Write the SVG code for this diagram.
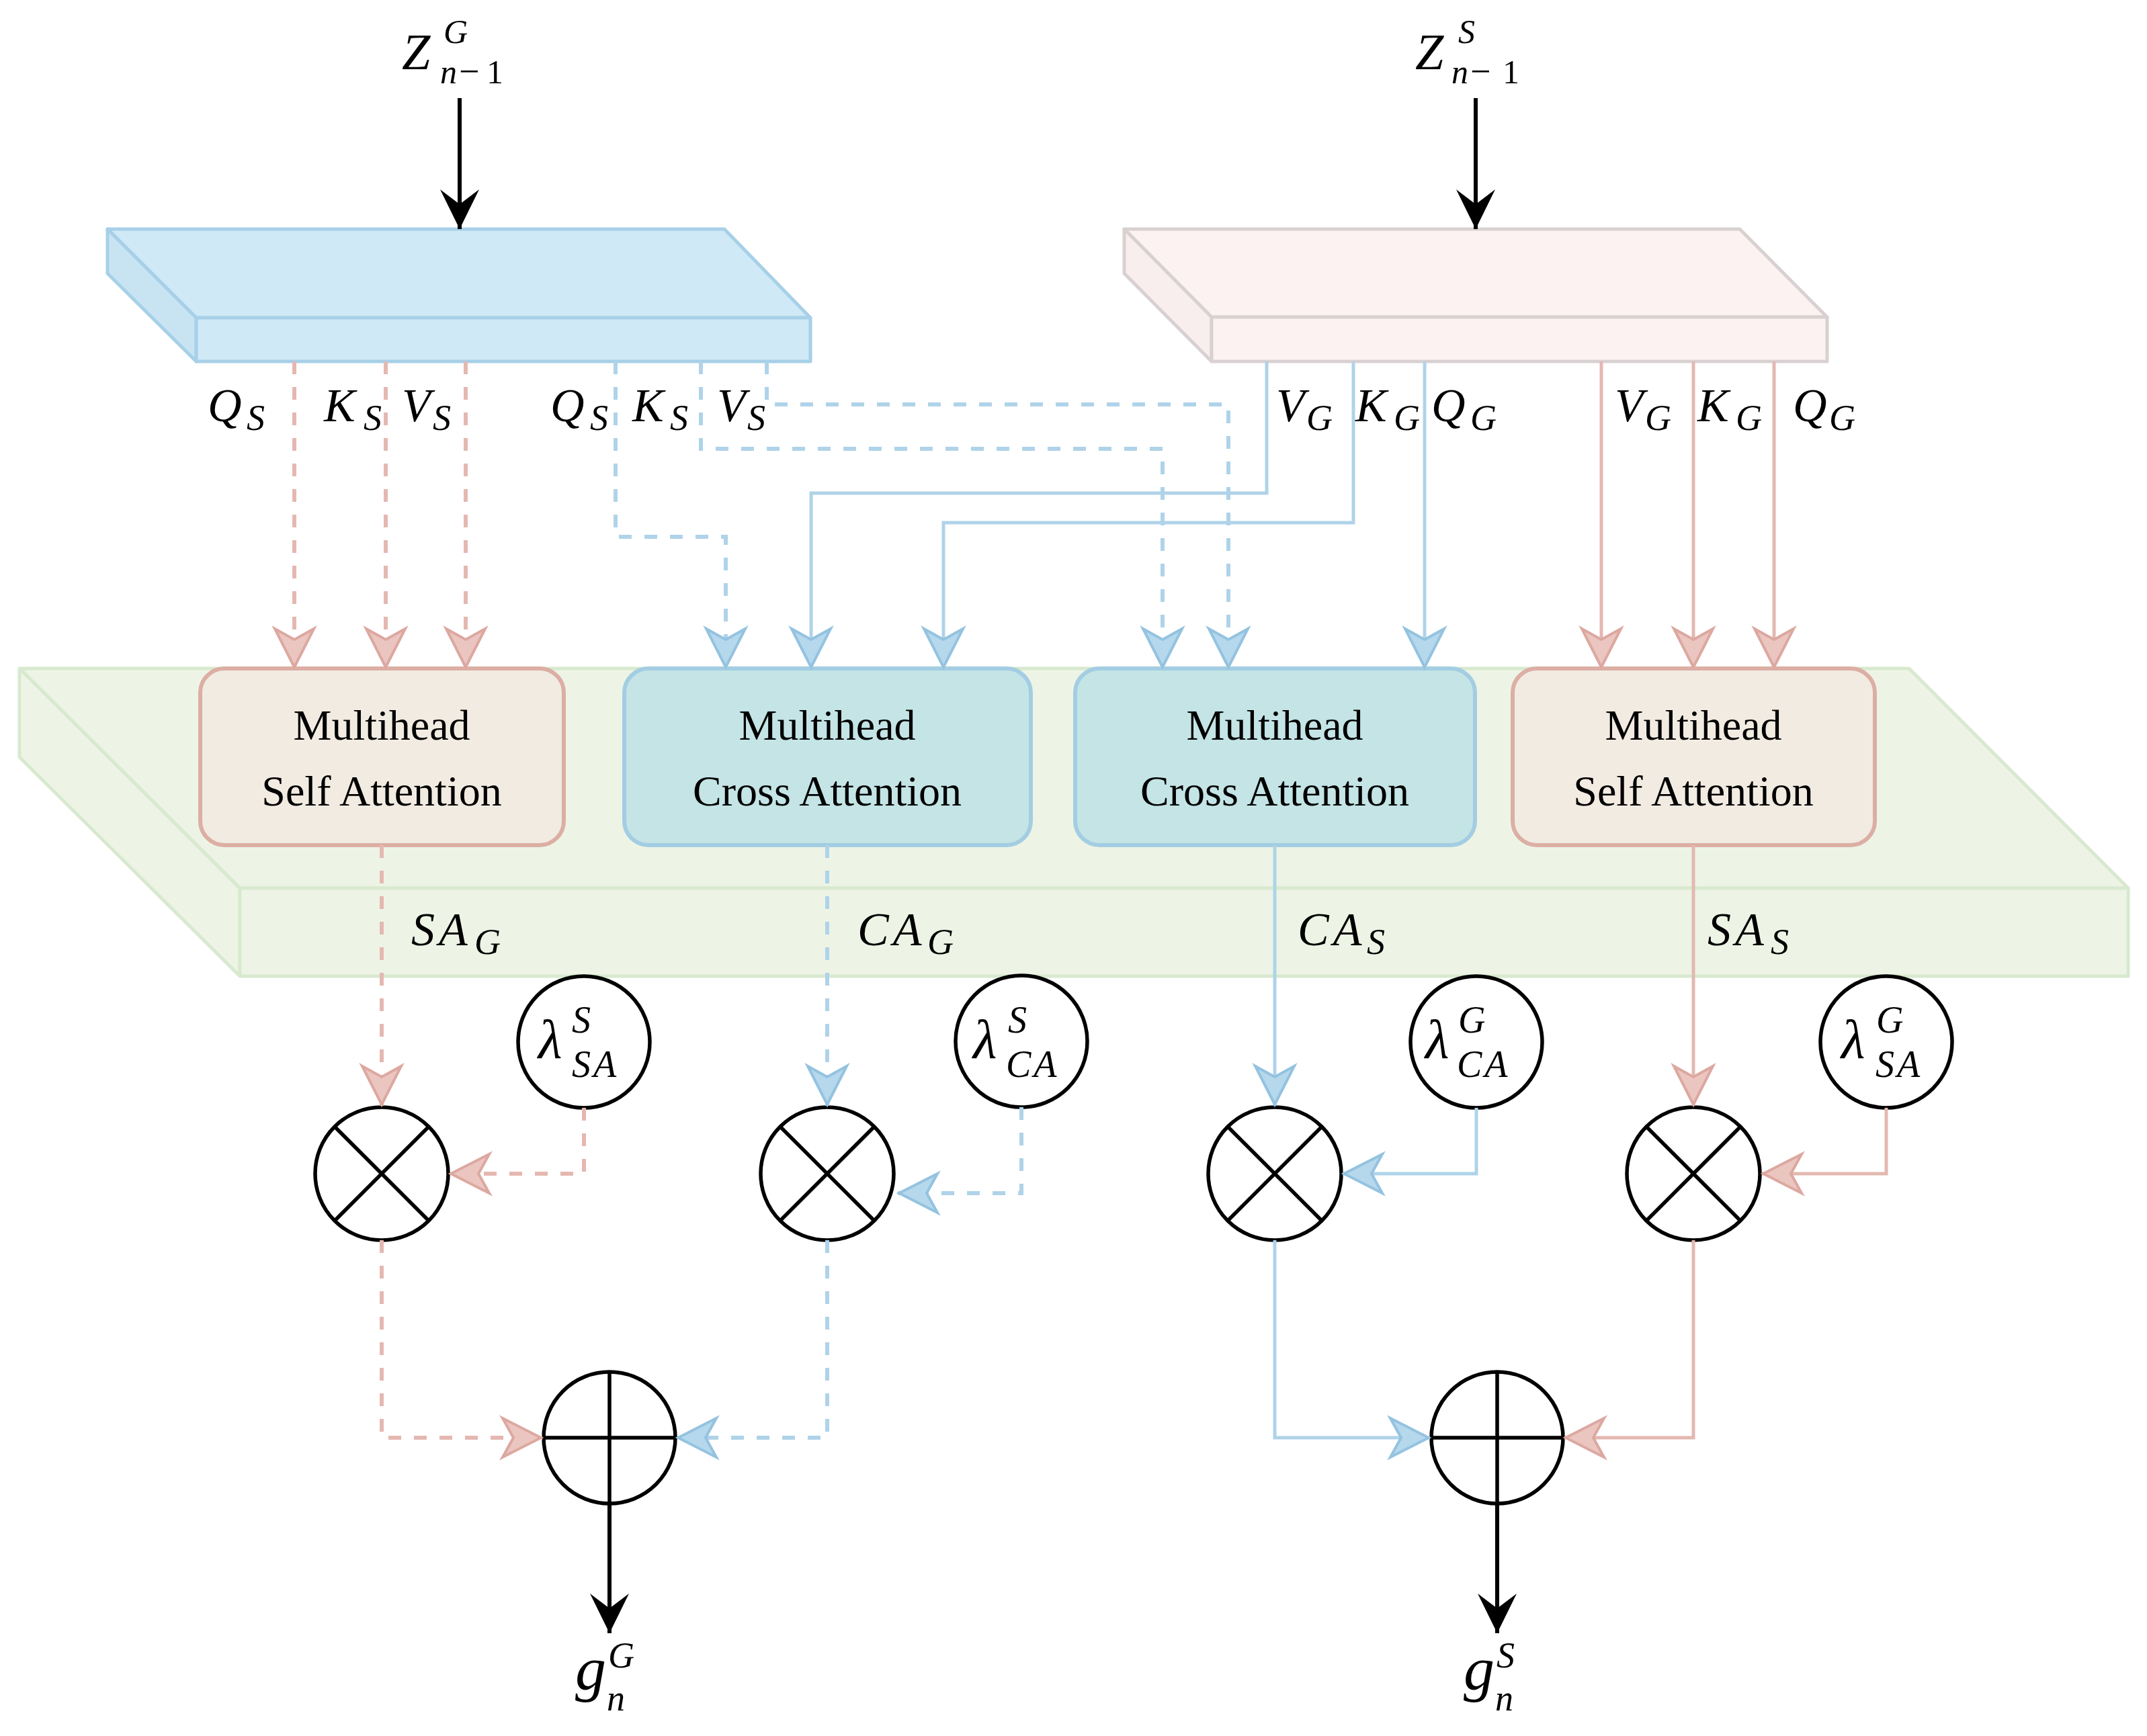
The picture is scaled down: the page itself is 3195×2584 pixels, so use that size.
<svg xmlns="http://www.w3.org/2000/svg" width="3195" height="2584" viewBox="0 0 3195 2584">
<style>
.bg{fill:#ffffff}
.txt{font-family:"Liberation Serif","Times New Roman",serif;font-size:64px;fill:#000;text-anchor:middle}
.m{font-family:"Liberation Serif","Times New Roman",serif;font-style:italic;fill:#000}
.big{font-size:70px}
.sub{font-size:54px}
.slabB{fill:#cfe9f6;stroke:#a7d0e8;stroke-width:5;stroke-linejoin:round}
.slabBs{fill:#c8e4f3;stroke:#a7d0e8;stroke-width:5;stroke-linejoin:round}
.slabP{fill:#fcf2f1;stroke:#d9d1d1;stroke-width:5;stroke-linejoin:round}
.slabPs{fill:#f8eeed;stroke:#d9d1d1;stroke-width:5;stroke-linejoin:round}
.slabG{fill:#edf4e5;stroke:#d8e9cf;stroke-width:5;stroke-linejoin:round}
.boxSA{fill:#f1ebe2;stroke:#dcaea4;stroke-width:6}
.boxCA{fill:#c4e4e6;stroke:#a3cde2;stroke-width:6}
.op{fill:#ffffff;stroke:#000;stroke-width:5.5}
.opl{stroke:#000;stroke-width:5.5;fill:none}
.pd{fill:none;stroke:#e4b8b1;stroke-width:6;stroke-dasharray:19 19;marker-end:url(#ap)}
.bd{fill:none;stroke:#afd3e9;stroke-width:6;stroke-dasharray:19 19;marker-end:url(#ab)}
.ps{fill:none;stroke:#e4b8b1;stroke-width:5;marker-end:url(#ap)}
.bs{fill:none;stroke:#afd3e9;stroke-width:5;marker-end:url(#ab)}
.k{fill:none;stroke:#000;stroke-width:6;marker-end:url(#ak)}
</style>
<defs>
<marker id="ap" viewBox="-66 -34 70 68" refX="0" refY="0" markerWidth="70" markerHeight="68" markerUnits="userSpaceOnUse" orient="auto">
<path d="M-2,0 L-59,-29 L-43,0 L-59,29 Z" fill="#ebc6c1" stroke="#dca8a0" stroke-width="4"/>
</marker>
<marker id="ab" viewBox="-66 -34 70 68" refX="0" refY="0" markerWidth="70" markerHeight="68" markerUnits="userSpaceOnUse" orient="auto">
<path d="M-2,0 L-59,-29 L-43,0 L-59,29 Z" fill="#b6d8ec" stroke="#94c3e0" stroke-width="4"/>
</marker>
<marker id="ak" viewBox="-66 -34 70 68" refX="0" refY="0" markerWidth="70" markerHeight="68" markerUnits="userSpaceOnUse" orient="auto">
<path d="M0,0 L-59,-29 L-37,0 L-59,29 Z" fill="#000"/>
</marker>
</defs>
<rect class="bg" x="0" y="0" width="3195" height="2584"/>

<g id="slab-G">
<polygon class="slabB" points="160,341 1078,341 1206,473 292,473"/>
<polygon class="slabBs" points="160,341 292,473 292,538 160,407"/>
<rect class="slabB" x="292" y="473" width="914" height="65"/>
</g>
<g id="slab-S">
<polygon class="slabP" points="1673,341 2589,341 2719,472 1803,472"/>
<polygon class="slabPs" points="1673,341 1803,472 1803,538 1673,407"/>
<rect class="slabP" x="1803" y="472" width="916" height="66"/>
</g>
<g id="slab-attn">
<polygon class="slabG" points="29,995 2841,995 3167,1322 357,1322"/>
<polygon class="slabG" points="29,995 357,1322 357,1453 29,1127"/>
<rect class="slabG" x="357" y="1322" width="2810" height="131"/>
</g>

<g id="sa-g">
<rect class="boxSA" x="298" y="995" width="541" height="263" rx="36"/>
<text class="txt" x="568" y="1101">Multihead</text>
<text class="txt" x="568" y="1199">Self Attention</text>
</g>
<g id="ca-g">
<rect class="boxCA" x="929" y="995" width="605" height="263" rx="36"/>
<text class="txt" x="1231" y="1101">Multihead</text>
<text class="txt" x="1231" y="1199">Cross Attention</text>
</g>
<g id="ca-s">
<rect class="boxCA" x="1600" y="995" width="595" height="263" rx="36"/>
<text class="txt" x="1897" y="1101">Multihead</text>
<text class="txt" x="1897" y="1199">Cross Attention</text>
</g>
<g id="sa-s">
<rect class="boxSA" x="2251" y="995" width="539" height="263" rx="36"/>
<text class="txt" x="2520" y="1101">Multihead</text>
<text class="txt" x="2520" y="1199">Self Attention</text>
</g>

<g id="lambda-sa-s">
<circle class="op" cx="869" cy="1551" r="98"/>
<text class="m" font-size="82"><tspan x="801" y="1575">λ</tspan><tspan x="851" y="1537" font-size="56">S</tspan><tspan x="851" y="1603" font-size="56" letter-spacing="4">SA</tspan></text>
</g>
<g id="lambda-ca-s">
<circle class="op" cx="1520" cy="1550" r="98"/>
<text class="m" font-size="82"><tspan x="1448" y="1575">λ</tspan><tspan x="1500" y="1537" font-size="56">S</tspan><tspan x="1497" y="1603" font-size="56" letter-spacing="4">CA</tspan></text>
</g>
<g id="lambda-ca-g">
<circle class="op" cx="2197" cy="1551" r="98"/>
<text class="m" font-size="82"><tspan x="2121" y="1575">λ</tspan><tspan x="2170" y="1537" font-size="56">G</tspan><tspan x="2168" y="1603" font-size="56" letter-spacing="4">CA</tspan></text>
</g>
<g id="lambda-sa-g">
<circle class="op" cx="2807" cy="1551" r="98"/>
<text class="m" font-size="82"><tspan x="2740" y="1575">λ</tspan><tspan x="2792" y="1537" font-size="56">G</tspan><tspan x="2791" y="1603" font-size="56" letter-spacing="4">SA</tspan></text>
</g>

<g id="mul-1">
<circle class="op" cx="568" cy="1747" r="99"/>
<path class="opl" d="M498,1677 L638,1817 M638,1677 L498,1817"/>
</g>
<g id="mul-2">
<circle class="op" cx="1231" cy="1747" r="99"/>
<path class="opl" d="M1161,1677 L1301,1817 M1301,1677 L1161,1817"/>
</g>
<g id="mul-3">
<circle class="op" cx="1897" cy="1747" r="99"/>
<path class="opl" d="M1827,1677 L1967,1817 M1967,1677 L1827,1817"/>
</g>
<g id="mul-4">
<circle class="op" cx="2520" cy="1747" r="99"/>
<path class="opl" d="M2450,1677 L2590,1817 M2590,1677 L2450,1817"/>
</g>
<g id="add-g">
<circle class="op" cx="907" cy="2140" r="98"/>
<path class="opl" d="M809,2140 H1005 M907,2042 V2238"/>
</g>
<g id="add-s">
<circle class="op" cx="2228" cy="2140" r="98"/>
<path class="opl" d="M2130,2140 H2326 M2228,2042 V2238"/>
</g>

<g id="connectors">
<path class="pd" d="M438,538 V995"/>
<path class="pd" d="M574,538 V995"/>
<path class="pd" d="M693,538 V995"/>
<path class="pd" d="M568,1258 V1646"/>
<path class="pd" d="M869,1649 V1747 H669"/>
<path class="pd" d="M568,1846 V2140 H807"/>
<path class="bd" d="M916,538 V799 H1080 V995"/>
<path class="bd" d="M1043,538 V668 H1730 V995"/>
<path class="bd" d="M1141,538 V602 H1828 V995"/>
<path class="bd" d="M1231,1258 V1646"/>
<path class="bd" d="M1520,1648 V1776 H1336"/>
<path class="bd" d="M1231,1846 V2140 H1007"/>
<path class="bs" d="M1885,538 V734 H1207 V995"/>
<path class="bs" d="M2014,538 V778 H1404 V995"/>
<path class="bs" d="M2120,538 V995"/>
<path class="bs" d="M1897,1258 V1646"/>
<path class="bs" d="M2197,1649 V1747 H1998"/>
<path class="bs" d="M1897,1846 V2140 H2128"/>
<path class="ps" d="M2383,538 V995"/>
<path class="ps" d="M2520,538 V995"/>
<path class="ps" d="M2640,538 V995"/>
<path class="ps" d="M2520,1258 V1646"/>
<path class="ps" d="M2807,1649 V1747 H2622"/>
<path class="ps" d="M2520,1846 V2140 H2328"/>
<path class="k" d="M684,146 V341"/>
<path class="k" d="M2196,146 V341"/>
<path class="k" d="M907,2238 V2431"/>
<path class="k" d="M2228,2238 V2431"/>
</g>

<g id="labels">
<text class="m" font-size="76"><tspan x="598" y="103">Z</tspan><tspan x="660" y="64" font-size="50">G</tspan><tspan x="655" y="124" font-size="50">n</tspan><tspan x="683" y="124" font-size="54" font-style="normal">−</tspan><tspan x="724" y="124" font-size="50" font-style="normal">1</tspan></text>
<text class="m" font-size="76"><tspan x="2106" y="103">Z</tspan><tspan x="2170" y="64" font-size="50">S</tspan><tspan x="2160" y="124" font-size="50">n</tspan><tspan x="2188" y="124" font-size="54" font-style="normal">−</tspan><tspan x="2236" y="124" font-size="50" font-style="normal">1</tspan></text>

<text class="m big"><tspan x="309" y="627">Q</tspan><tspan class="sub" x="367" y="640">S</tspan></text>
<text class="m big"><tspan x="482" y="627">K</tspan><tspan class="sub" x="541" y="640">S</tspan></text>
<text class="m big"><tspan x="598" y="627">V</tspan><tspan class="sub" x="644" y="640">S</tspan></text>
<text class="m big"><tspan x="819" y="627">Q</tspan><tspan class="sub" x="878" y="640">S</tspan></text>
<text class="m big"><tspan x="941" y="627">K</tspan><tspan class="sub" x="997" y="640">S</tspan></text>
<text class="m big"><tspan x="1067" y="627">V</tspan><tspan class="sub" x="1112" y="640">S</tspan></text>

<text class="m big"><tspan x="1899" y="627">V</tspan><tspan class="sub" x="1944" y="640">G</tspan></text>
<text class="m big"><tspan x="2017" y="627">K</tspan><tspan class="sub" x="2074" y="640">G</tspan></text>
<text class="m big"><tspan x="2130" y="627">Q</tspan><tspan class="sub" x="2188" y="640">G</tspan></text>
<text class="m big"><tspan x="2403" y="627">V</tspan><tspan class="sub" x="2448" y="640">G</tspan></text>
<text class="m big"><tspan x="2526" y="627">K</tspan><tspan class="sub" x="2583" y="640">G</tspan></text>
<text class="m big"><tspan x="2668" y="627">Q</tspan><tspan class="sub" x="2722" y="640">G</tspan></text>

<text class="m big"><tspan x="612" y="1407" letter-spacing="6">SA</tspan><tspan class="sub" x="706" y="1420">G</tspan></text>
<text class="m big"><tspan x="1276" y="1407" letter-spacing="6">CA</tspan><tspan class="sub" x="1380" y="1420">G</tspan></text>
<text class="m big"><tspan x="1931" y="1407" letter-spacing="6">CA</tspan><tspan class="sub" x="2034" y="1420">S</tspan></text>
<text class="m big"><tspan x="2541" y="1407" letter-spacing="6">SA</tspan><tspan class="sub" x="2635" y="1420">S</tspan></text>

<text class="m" font-size="92"><tspan x="856" y="2515">g</tspan><tspan x="905" y="2482" font-size="54">G</tspan><tspan x="903" y="2546" font-size="54">n</tspan></text>
<text class="m" font-size="92"><tspan x="2178" y="2515">g</tspan><tspan x="2227" y="2482" font-size="54">S</tspan><tspan x="2225" y="2546" font-size="54">n</tspan></text>
</g>
</svg>
